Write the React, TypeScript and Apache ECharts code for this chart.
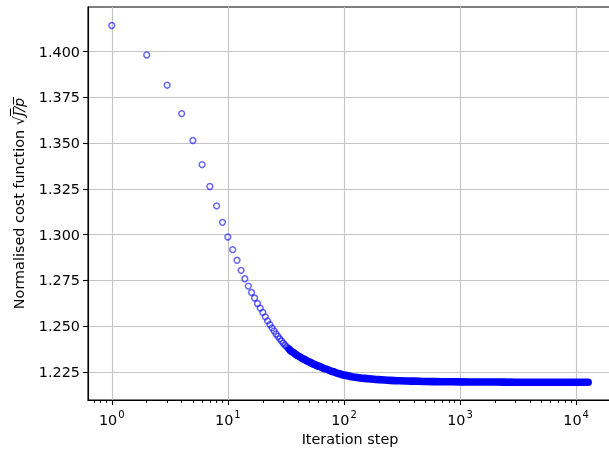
import React, { useEffect, useRef } from "react";
import * as echarts from "echarts";

// Iteration steps shown as individual markers
const earlySteps = [
  1, 2, 3, 4, 5, 6, 7, 8, 9, 10, 11, 12, 13, 14, 15, 16, 17, 18, 19, 20,
  21, 22, 23, 24, 25, 26, 27, 28, 29, 30, 31, 32, 33, 34, 35, 36, 37, 38, 39, 40,
  41, 42, 43, 44, 45, 46, 47, 48, 49, 50, 51, 52, 53, 54, 55, 56, 57, 58, 59, 60,
];
const earlyCost = [
  1.4142, 1.3981, 1.3816, 1.3661, 1.3514, 1.3382, 1.3263, 1.3157, 1.3067, 1.2987,
  1.2918, 1.286, 1.2805, 1.2759, 1.2719, 1.2684, 1.2654, 1.2624, 1.2599, 1.2575,
  1.2551, 1.2529, 1.2509, 1.2491, 1.2474, 1.2458, 1.2444, 1.2431, 1.2419, 1.2407,
  1.2397, 1.2388, 1.238, 1.2372, 1.2365, 1.2359, 1.2353, 1.2348, 1.2343, 1.2339,
  1.2335, 1.2331, 1.2327, 1.2324, 1.232, 1.2317, 1.2314, 1.2311, 1.2308, 1.2305,
  1.2302, 1.23, 1.2297, 1.2295, 1.2293, 1.229, 1.2288, 1.2286, 1.2284, 1.2282,
];
// Dense part where the markers merge into a solid band
const tailSteps = [
  34, 36, 40, 45, 50, 55, 60, 70, 80, 90, 100, 120, 150, 200, 250, 300, 400,
  500, 700, 1000, 1500, 2000, 3000, 5000, 8000, 12700,
];
const tailCost = [
  1.2372, 1.2359, 1.2339, 1.232, 1.2305, 1.2293, 1.2282, 1.2266, 1.2252,
  1.2241, 1.2233, 1.2223, 1.2215, 1.2208, 1.2204, 1.2202, 1.22, 1.2198, 1.2197,
  1.2196, 1.2195, 1.2195, 1.2194, 1.2194, 1.2194, 1.2194,
];

const xMajorTicks = [1, 10, 100, 1000, 10000];
const xMinorTicks = [
  0.7, 0.8, 0.9, 2, 3, 4, 5, 6, 7, 8, 9, 20, 30, 40, 50, 60, 70, 80, 90,
  200, 300, 400, 500, 600, 700, 800, 900, 2000, 3000, 4000, 5000, 6000, 7000,
  8000, 9000, 20000,
];
const yTicks = [1.225, 1.25, 1.275, 1.3, 1.325, 1.35, 1.375, 1.4];

const FONT = "DejaVu Sans";

export default function App() {
  const ref = useRef<HTMLDivElement>(null);
  useEffect(() => {
    const chart = echarts.init(ref.current!, null, { renderer: "svg" });
    const xMin = 0.624;
    const xMax = 20370;
    chart.setOption({
      animation: false,
      textStyle: { fontFamily: FONT },
      grid: {
        left: 88,
        top: 7,
        width: 524,
        height: 393,
        show: true,
        borderColor: "#000",
        borderWidth: 1.1,
        backgroundColor: "transparent",
        containLabel: false,
        outerBoundsMode: "none",
      },
      xAxis: [
        {
          type: "log",
          logBase: 10,
          min: xMin,
          max: xMax,
          name: "Iteration step",
          nameLocation: "middle",
          nameGap: 30,
          nameTextStyle: { fontFamily: FONT, fontSize: 14.4, color: "#000" },
          axisLine: { show: true, lineStyle: { color: "#000", width: 1.1 } },
          axisTick: {
            show: true,
            length: 5,
            customValues: xMajorTicks,
            lineStyle: { color: "#000", width: 1.1 },
          },
          axisLabel: {
            customValues: xMajorTicks,
            margin: 9,
            formatter: (v: number) => `{b|10}{s|${Math.round(Math.log10(v))}}`,
            rich: {
              b: { fontFamily: FONT, fontSize: 14.4, color: "#000", verticalAlign: "bottom" },
              s: {
                fontFamily: FONT,
                fontSize: 10,
                color: "#000",
                verticalAlign: "bottom",
                padding: [0, 0, 8, 1],
              },
            },
          },
          splitLine: { show: true, lineStyle: { color: "#c4c4c4", width: 1.1 } },
        },
        {
          type: "log",
          logBase: 10,
          min: xMin,
          max: xMax,
          gridIndex: 0,
          position: "bottom",
          axisLine: { show: false },
          axisLabel: { show: false },
          splitLine: { show: false },
          axisTick: {
            show: true,
            length: 3,
            customValues: xMinorTicks,
            lineStyle: { color: "#000", width: 0.9 },
          },
        },
      ],
      yAxis: {
        type: "value",
        min: 1.2097,
        max: 1.4243,
        name: "{a|Normalised cost function }{r|√}{j|J̅/̅p̅}",
        nameLocation: "middle",
        nameGap: 62,
        nameTextStyle: {
          fontFamily: FONT,
          fontSize: 14.4,
          color: "#000",
          rich: {
            a: { fontFamily: FONT, fontSize: 14.4, color: "#000" },
            r: { fontFamily: FONT, fontSize: 14.4, color: "#000" },
            j: { fontFamily: FONT, fontSize: 14.4, color: "#000", fontStyle: "italic" },
          },
        },
        axisLine: { show: true, lineStyle: { color: "#000", width: 1.1 } },
        axisTick: {
          show: true,
          length: 5,
          customValues: yTicks,
          lineStyle: { color: "#000", width: 1.1 },
        },
        axisLabel: {
          customValues: yTicks,
          margin: 8,
          fontFamily: FONT,
          fontSize: 14.4,
          color: "#000",
          formatter: (v: number) => v.toFixed(3),
        },
        splitLine: { show: true, lineStyle: { color: "#c4c4c4", width: 1.1 } },
      },
      series: [
        {
          type: "line",
          xAxisIndex: 0,
          data: tailSteps.map((s, i) => [s, tailCost[i]]),
          showSymbol: false,
          smooth: 0.3,
          smoothMonotone: "x",
          lineStyle: { color: "#0000ff", width: 7.6, cap: "round", join: "round" },
          z: 2,
        },
        {
          type: "scatter",
          xAxisIndex: 0,
          data: earlySteps.map((s, i) => [s, earlyCost[i]]),
          symbol: "circle",
          symbolSize: 5.8,
          itemStyle: {
            color: "transparent",
            borderColor: "rgba(0,0,255,0.75)",
            borderWidth: 1.5,
          },
          z: 3,
        },
      ],
    });
    return () => chart.dispose();
  }, []);
  return (
    <div
      ref={ref}
      style={{ position: "fixed", left: 0, top: 0, width: 609, height: 449 }}
    />
  );
}
